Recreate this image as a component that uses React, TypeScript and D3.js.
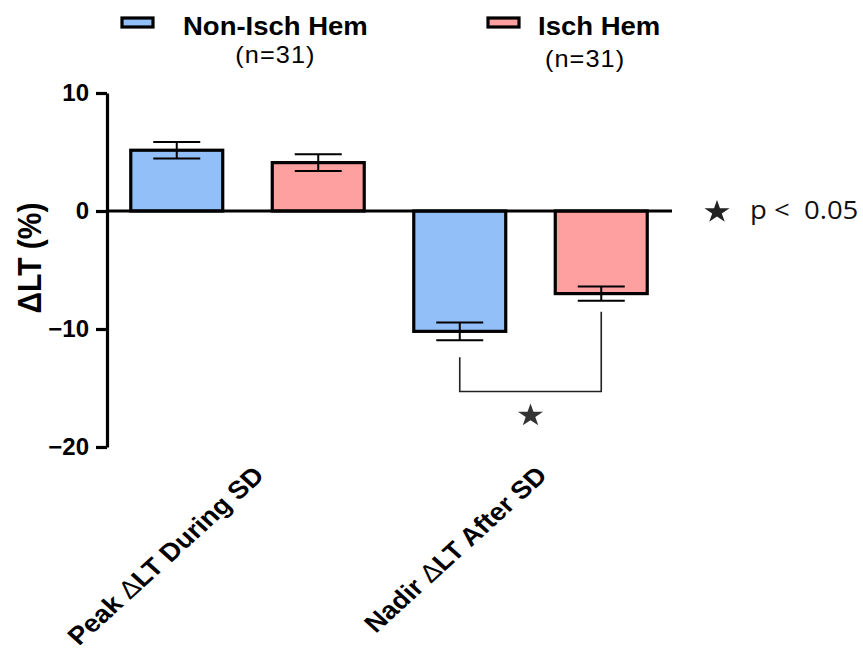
import React, { useRef, useEffect } from 'react'
import * as d3 from 'd3'

// data
const categories = ['Peak ΔLT During SD', 'Nadir ΔLT After SD']
const groups = ['Non-Isch Hem', 'Isch Hem']
const groupN = [31, 31]
const nonIschMean = [5.15, -10.2]
const nonIschSem = [0.7, 0.75]
const ischMean = [4.1, -7.0]
const ischSem = [0.7, 0.6]
const yTicks = [-20, -10, 0, 10]
const bracketLevel = -15.3
const sigLabel = 'p <  0.05'

const means = [nonIschMean, ischMean]
const sems = [nonIschSem, ischSem]
const colors = ['#92BFF8', '#FFA0A0']

const SX = 1.1 // the original figure is a bit stretched sideways

const App = () => {
    const ref = useRef<SVGSVGElement>(null)
    useEffect(() => {
        const svg = d3.select(ref.current)
        svg.selectAll('*').remove()

        const y = d3.scaleLinear().domain([-20, 10]).range([447, 93])
        const x0 = d3.scaleBand().domain(categories).range([106, 672]).padding(0)
        const x1 = d3.scaleBand().domain(groups)
            .range([0, x0.bandwidth()])
            .paddingInner(0.35)
            .paddingOuter(0.175)
        const color = d3.scaleOrdinal<string, string>().domain(groups).range(colors)

        const rows = categories.flatMap((c, i) => groups.map((g, j) => ({
            c, g, mean: means[j][i], sem: sems[j][i],
        })))
        const cx = (d: { c: string, g: string }) => (x0(d.c) as number) + (x1(d.g) as number) + x1.bandwidth() / 2

        // bars
        svg.append('g').selectAll('rect')
            .data(rows)
            .join('rect')
            .attr('x', d => (x0(d.c) as number) + (x1(d.g) as number))
            .attr('y', d => Math.min(y(d.mean), y(0)))
            .attr('width', x1.bandwidth())
            .attr('height', d => Math.abs(y(d.mean) - y(0)))
            .attr('fill', d => color(d.g))
            .attr('stroke', 'black')
            .attr('stroke-width', 3.2)

        // zero line
        svg.append('line')
            .attr('x1', 107).attr('x2', x0.range()[1])
            .attr('y1', y(0)).attr('y2', y(0))
            .attr('stroke', 'black').attr('stroke-width', 3.2)

        // error bars
        const eb = svg.append('g').attr('stroke', 'black').attr('stroke-width', 2)
        const capW = 47
        rows.forEach(d => {
            const x = cx(d)
            eb.append('line').attr('x1', x).attr('x2', x)
                .attr('y1', y(d.mean + d.sem)).attr('y2', y(d.mean - d.sem))
            eb.append('line').attr('x1', x - capW / 2).attr('x2', x + capW / 2)
                .attr('y1', y(d.mean + d.sem)).attr('y2', y(d.mean + d.sem))
            eb.append('line').attr('x1', x - capW / 2).attr('x2', x + capW / 2)
                .attr('y1', y(d.mean - d.sem)).attr('y2', y(d.mean - d.sem))
        })

        // y axis
        const yAxis = d3.axisLeft(y)
            .tickValues(yTicks)
            .tickSize(11)
            .tickSizeOuter(0)
            .tickPadding(7)
        const ga = svg.append('g')
            .attr('transform', 'translate(107,0)')
            .call(yAxis)
        ga.select('.domain').attr('stroke-width', 3.2)
        ga.selectAll('.tick line').attr('stroke-width', 3.2)
        ga.selectAll('.tick text')
            .style('font-family', '"Liberation Sans", Arial, sans-serif')
            .style('font-weight', 'bold')
            .style('font-size', '24px')
            .attr('fill', 'black')

        // y title
        svg.append('text')
            .attr('transform', `translate(41,258) scale(${SX},1) rotate(-90)`)
            .attr('text-anchor', 'middle')
            .style('font-family', '"Liberation Sans", Arial, sans-serif')
            .style('font-weight', 'bold')
            .style('font-size', '30px')
            .text('ΔLT (%)')

        // category labels
        categories.forEach(c => {
            const px = (x0(c) as number) + x0.bandwidth() / 2 + 18
            const t = svg.append('text')
                .attr('transform', `translate(${px},477) scale(${SX},1) rotate(-45)`)
                .attr('text-anchor', 'end')
                .style('font-family', '"Liberation Sans", Arial, sans-serif')
                .style('font-weight', 'bold')
                .style('font-size', '25px')
            const [a, b] = c.split('Δ')
            t.append('tspan').text(a)
            t.append('tspan').style('font-weight', 'normal').text('Δ')
            t.append('tspan').text(b)
        })

        // significance bracket
        const s0 = rows[2], s1 = rows[3]
        const bx0 = cx(s0), bx1 = cx(s1)
        const by = y(bracketLevel)
        svg.append('path')
            .attr('d', `M${bx0},${y(s0.mean - s0.sem) + 17}V${by}H${bx1}V${y(s1.mean - s1.sem) + 11}`)
            .attr('fill', 'none')
            .attr('stroke', '#222')
            .attr('stroke-width', 1.6)
        const star = d3.symbol(d3.symbolStar, 162)()
        svg.append('path')
            .attr('d', star)
            .attr('fill', '#333')
            .attr('transform', `translate(${(bx0 + bx1) / 2},${by + 24}) scale(${SX},1)`)

        // p < 0.05 note
        svg.append('path')
            .attr('d', star)
            .attr('fill', '#222')
            .attr('transform', `translate(717,${y(0) + 1}) scale(${SX},1)`)
        svg.append('text')
            .attr('transform', `translate(750,${y(0) + 8}) scale(${SX},1)`)
            .style('font-family', '"Open Sans", "Noto Sans", sans-serif')
            .style('font-size', '25px')
            .style('white-space', 'pre')
            .attr('fill', '#111')
            .text(sigLabel)

        // legend
        const legX = [122, 488]
        const legTextX = [183, 538]
        const nY = [63, 67]
        const nShift = [0, -14]
        groups.forEach((g, i) => {
            svg.append('rect')
                .attr('x', legX[i]).attr('y', 18)
                .attr('width', 31).attr('height', 9)
                .attr('fill', color(g))
                .attr('stroke', 'black').attr('stroke-width', 3.2)
            const tt = svg.append('text')
                .attr('transform', `translate(${legTextX[i]},35) scale(${SX},1)`)
                .style('font-family', '"Liberation Sans", Arial, sans-serif')
                .style('font-weight', 'bold')
                .style('font-size', '25px')
                .text(g)
            const w = (tt.node() as SVGTextElement).getComputedTextLength() * SX
            svg.append('text')
                .attr('transform', `translate(${legTextX[i] + w / 2 + nShift[i]},${nY[i]}) scale(${SX},1)`)
                .attr('text-anchor', 'middle')
                .style('font-family', '"Liberation Sans", Arial, sans-serif')
                .style('font-size', '23px')
                .style('letter-spacing', '1px')
                .text(`(n=${groupN[i]})`)
        })
    }, [])
    return (
        <svg ref={ref} width={863} height={659}
            style={{ position: 'absolute', left: 0, top: 0, background: 'white' }} />
    )
}

export default App
